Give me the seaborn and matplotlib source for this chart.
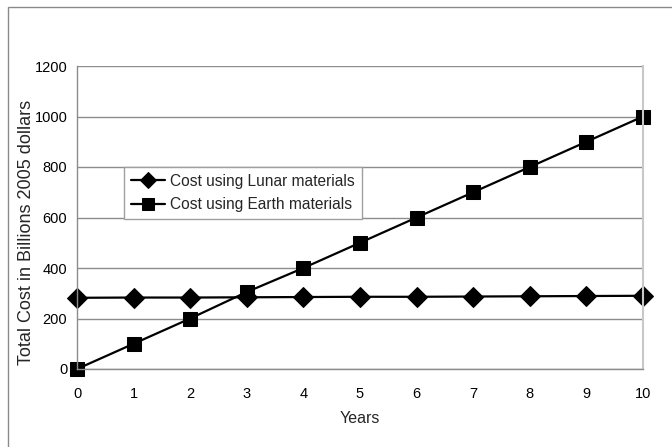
import pandas as pd
import matplotlib
matplotlib.use("Agg")
import matplotlib.pyplot as plt
import seaborn as sns
from matplotlib.patches import Rectangle

years = list(range(0, 11))
lunar_cost = [282, 283, 283, 284, 285, 286, 286, 287, 288, 289, 290]
earth_cost = [0, 100, 200, 305, 400, 500, 600, 700, 800, 900, 1000]
lunar_label = "Cost using Lunar materials"
earth_label = "Cost using Earth materials"
y_ticks = [0, 200, 400, 600, 800, 1000, 1200]

sns.set_style("white")
plt.rcParams["font.family"] = ["Liberation Sans", "DejaVu Sans"]

df = pd.DataFrame({
    "Years": years * 2,
    "Cost": lunar_cost + earth_cost,
    "Series": [lunar_label] * len(years) + [earth_label] * len(years),
})

fig = plt.figure(figsize=(6.72, 4.47), dpi=100)
ax = fig.add_axes([77 / 672, 1 - 369 / 447, 566 / 672, 303 / 447])

# outer chart frame
fig.patches.append(Rectangle((8 / 672, -0.1), 1.2, 1.1 - 7 / 447,
                             transform=fig.transFigure, fill=False,
                             edgecolor="#8a8a8a", linewidth=1.0))

sns.lineplot(data=df[df["Series"] == lunar_label], x="Years", y="Cost",
             color="black", marker="D", markersize=10, linewidth=1.6,
             markeredgecolor="black", label=lunar_label, ax=ax, clip_on=False)
sns.lineplot(data=df[df["Series"] == earth_label], x="Years", y="Cost",
             color="black", marker="s", markersize=10.5, linewidth=1.6,
             markeredgecolor="black", label=earth_label, ax=ax, clip_on=False)

ax.set_xlim(0, 10)
ax.set_ylim(0, 1200)
ax.set_xticks(years)
ax.set_yticks(y_ticks)
ax.grid(axis="y", color="#8c8c8c", linewidth=1.0)
ax.set_axisbelow(True)

for side in ["left", "bottom"]:
    ax.spines[side].set_color("#8c8c8c")
    ax.spines[side].set_linewidth(1.0)
ax.spines["top"].set_visible(False)
ax.spines["right"].set_color("#c8c8c8")
ax.spines["right"].set_linewidth(1.5)

ax.tick_params(axis="both", direction="out", length=4, width=1,
               color="#8c8c8c", labelsize=10.5, labelcolor="black")
ax.tick_params(axis="x", pad=9)
ax.tick_params(axis="y", pad=3)

ax.set_xlabel("Years", fontsize=11.5, labelpad=7)
ax.set_ylabel("Total Cost in Billions 2005 dollars", fontsize=13)
ax.yaxis.set_label_coords(-0.074, 0.452)

leg = ax.legend(loc="upper left", bbox_to_anchor=(47 / 566, 0.668),
                fontsize=11.2, frameon=True, fancybox=False,
                edgecolor="#a0a0a0", framealpha=1, borderpad=0.45,
                handlelength=2.2, handletextpad=0.3, labelspacing=0.55,
                borderaxespad=0)
leg.get_frame().set_linewidth(1.0)
for h in leg.legend_handles:
    h.set_markersize(8)

fig.savefig("out.png", dpi=100)
